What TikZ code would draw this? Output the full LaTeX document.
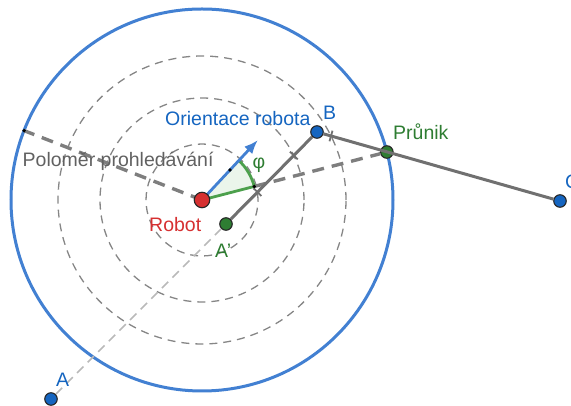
\documentclass[tikz,border=0pt]{standalone}
\usepackage{fontspec}
\setmainfont{Liberation Sans}
\usetikzlibrary{arrows.meta,calc}
\definecolor{bigblue}{RGB}{66,128,210}
\definecolor{lblblue}{RGB}{21,101,192}
\definecolor{ptred}{RGB}{214,48,49}
\definecolor{ptgreen}{RGB}{46,125,50}
\definecolor{arcgreen}{RGB}{76,160,76}
\definecolor{segray}{RGB}{112,112,112}
\definecolor{txtgray}{RGB}{97,97,97}
\begin{document}
\begin{tikzpicture}[x=1pt,y=1pt,
  dcirc/.style={draw=gray!95, line width=1.3pt, dash pattern=on 8pt off 6pt},
  bigcirc/.style={draw=bigblue, line width=3pt},
  lightdash/.style={draw=gray!55, line width=1.6pt, dash pattern=on 9pt off 6pt},
  thickdash/.style={draw=segray!90, line width=3.4pt, dash pattern=on 12pt off 8pt},
  seg/.style={draw=segray, line width=3pt},
  tick/.style={draw=segray, line width=1.8pt},
  pt/.style={circle, draw=black!85, line width=1.1pt, inner sep=0pt, minimum size=12.5pt},
  dot/.style={circle, fill=black, inner sep=0pt, minimum size=3.8pt},
  lbl/.style={inner sep=0pt, anchor=base west, font=\fontsize{19.5}{23}\selectfont}]
\useasboundingbox (0,0) rectangle (571,406);
% geometry
\coordinate (R) at (202,206);
\coordinate (Q) at ($(R)+(158.7:191)$);
\coordinate (Pc) at ($(R)+(14.55:191)$);
\coordinate (E) at ($(R)+(14.55:54)$);
\coordinate (Tip) at ($(R)+(47:82)$);
\coordinate (Mid) at ($(R)+(47:41)$);
\coordinate (T1) at (257.5,213.8);
\coordinate (T2) at (293.8,250.5);
\coordinate (T3) at (331,270);
% circles
\draw[dcirc] (R) circle[radius=56];
\draw[dcirc] (R) circle[radius=102];
\draw[dcirc] (R) circle[radius=144];
\draw[bigcirc] (R) circle[radius=191];
% points (placed first so connectors can refer to them)
\path (51,7) node[pt, fill=lblblue] (A) {};
\path (226,182) node[pt, fill=ptgreen] (Ap) {};
\path (317,274) node[pt, fill=lblblue] (B) {};
\path (560,205) node[pt, fill=lblblue] (C) {};
\path (Pc) node[pt, fill=ptgreen] (P) {};
% sector
\fill[arcgreen, fill opacity=0.11] (R) -- (E) arc[start angle=14.55, end angle=47, radius=54] -- cycle;
% dashed lines
\draw[lightdash] (A) -- (Ap);
\draw[thickdash] (R) -- (Q);
\draw[thickdash] (E) -- (P);
% solid segments
\draw[seg] (Ap) -- (B);
\draw[seg] (B) -- (C);
% ticks
\draw[tick] ($(T1)!5.5pt!90:(B)$) -- ($(T1)!5.5pt!-90:(B)$);
\draw[tick] ($(T2)!5.5pt!90:(B)$) -- ($(T2)!5.5pt!-90:(B)$);
\draw[tick] ($(T3)!5.5pt!90:(C)$) -- ($(T3)!5.5pt!-90:(C)$);
% angle
\draw[arcgreen, line width=2.8pt] (R) -- (E);
\draw[arcgreen, line width=2.8pt] (E) arc[start angle=14.55, end angle=47, radius=54];
% orientation arrow
\draw[draw=bigblue, line width=2.8pt, -{Latex[length=14pt,width=11pt]}] (R) -- (Tip);
\node[dot] (q) at (Q) {};
\node[dot] (m) at (Mid) {};
\node[dot] (e) at (E) {};
% robot
\node[pt, fill=ptred, minimum size=15.5pt] (Rb) at (R) {};
% labels
\node[lbl, text=lblblue] (lo) at (165,280) {Orientace robota};
\node[lbl, text=txtgray] (lp) at (22.5,239) {Poloměr prohledávání};
\node[lbl, text=ptred] (lr) at (149,174.3) {Robot};
\node[lbl, text=ptgreen] (la) at (215,148) {A'};
\node[lbl, text=lblblue] (lb) at (323,286) {B};
\node[lbl, text=ptgreen] (lpr) at (393,266) {Průnik};
\node[lbl, text=lblblue] (lc) at (565,217) {C};
\node[lbl, text=lblblue] (lA) at (56,19) {A};
\node[inner sep=0pt, text=ptgreen, font=\fontsize{19.5}{23}\selectfont] (phi) at (259,241) {φ};
\end{tikzpicture}
\end{document}
